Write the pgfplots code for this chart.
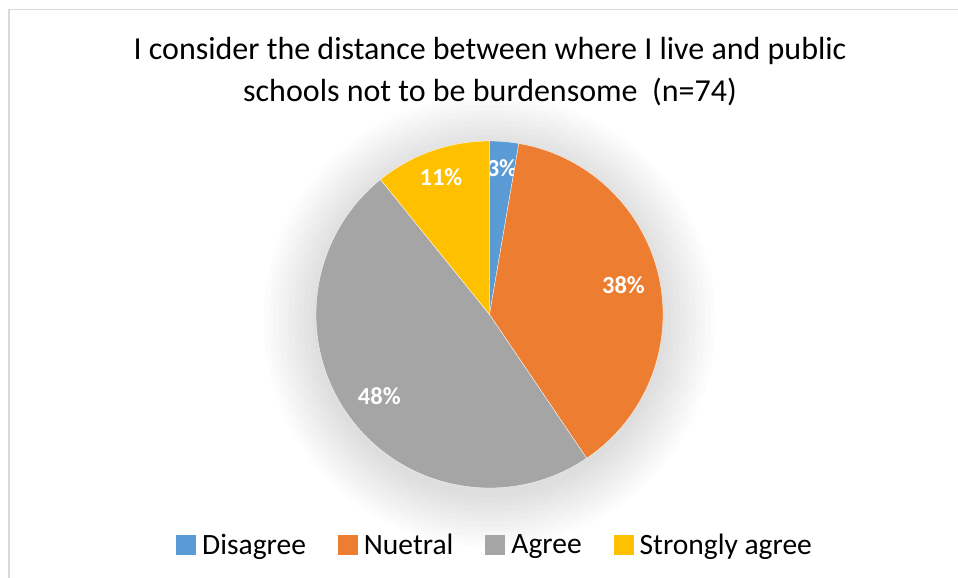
\documentclass[border=0pt]{standalone}
\usepackage{pgfplots}
\pgfplotsset{compat=1.18}
\usepackage{pgfplotstable}
\usepackage{fontspec}
\setmainfont{Carlito}
\definecolor{c0}{HTML}{5B9BD5}
\definecolor{c1}{HTML}{ED7D31}
\definecolor{c2}{HTML}{A5A5A5}
\definecolor{c3}{HTML}{FFC000}
\definecolor{bordergray}{HTML}{D9D9D9}
\pgfplotstableread{
name count lr lab
Disagree 2 0.845 3
Nuetral 28 0.79 38
Agree 36 0.79 48
Strongly 8 0.84 11
}\piedata
\newcommand\labfont{\fontsize{24.5}{29}\selectfont\bfseries}
\pgfplotsset{sqlegend/.style={legend image code/.code={\fill[#1] (0pt,-10pt) rectangle (20pt,10pt);}}}
\begin{document}
\begin{tikzpicture}
\useasboundingbox (0,0) rectangle (958pt,578pt);
\begin{axis}[
  x=1pt, y=1pt, scale only axis,
  xmin=0, xmax=958, ymin=0, ymax=578,
  hide axis, clip=false,
  legend columns=4,
  legend style={at={(axis description cs:0.5157,0.0571)}, anchor=center,
    draw=none, fill=none,
    font=\fontsize{29.5}{34}\selectfont,
    nodes={inner xsep=0pt, inner ysep=2pt},
    /tikz/every odd column/.style={column sep=6pt},
    /tikz/every even column/.style={column sep=32pt}},
]
% frame
\draw[bordergray, line width=1.5pt] (axis cs:9,0) -- (axis cs:9,568.5) -- (axis cs:958,568.5);
% soft shadow
\pgfplotsforeachungrouped \r in {176,181,...,226}{
  \edef\temp{\noexpand\fill[black, opacity=0.013] (axis cs:489.5,257) circle[radius=\r pt];}
  \temp
}
% pie slices
\def\curang{90}
\pgfplotsforeachungrouped \i in {0,1,2,3}{
  \pgfplotstablegetelem{\i}{count}\of\piedata
  \let\cnt\pgfplotsretval
  \pgfplotstablegetelem{\i}{lr}\of\piedata
  \let\lrad\pgfplotsretval
  \pgfplotstablegetelem{\i}{lab}\of\piedata
  \let\labtxt\pgfplotsretval
  \pgfmathsetmacro\sweep{360*\cnt/74}
  \pgfmathsetmacro\endang{\curang-\sweep}
  \pgfmathsetmacro\midang{\curang-\sweep/2}
  \pgfmathsetmacro\lx{489.5+\lrad*173.5*cos(\midang)}
  \pgfmathsetmacro\ly{263.5+\lrad*173.5*sin(\midang)}
  \edef\temp{\noexpand\fill[c\i, draw=white, line width=0.3pt] (axis cs:489.5,263.5) -- ++(\curang:173.5pt) arc[start angle=\curang, end angle=\endang, radius=173.5pt] -- cycle;
    \noexpand\node[font=\noexpand\labfont, text=white, inner sep=0pt] at (axis cs:\lx,\ly) {\labtxt\noexpand\%};}
  \temp
  \global\let\curang\endang
}
% title
\node[anchor=base, font=\fontsize{32}{38}\selectfont] at (axis cs:490,518) {I consider the distance between where I live and public};
\node[anchor=base, font=\fontsize{32}{38}\selectfont] at (axis cs:490,476) {schools not to be burdensome\ \ (n=74)};
% legend
\addlegendimage{sqlegend, fill=c0, draw=none}
\addlegendentry{Disagree}
\addlegendimage{sqlegend, fill=c1, draw=none}
\addlegendentry{Nuetral}
\addlegendimage{sqlegend, fill=c2, draw=none}
\addlegendentry{Agree}
\addlegendimage{sqlegend, fill=c3, draw=none}
\addlegendentry{Strongly agree}
\end{axis}
\end{tikzpicture}
\end{document}
